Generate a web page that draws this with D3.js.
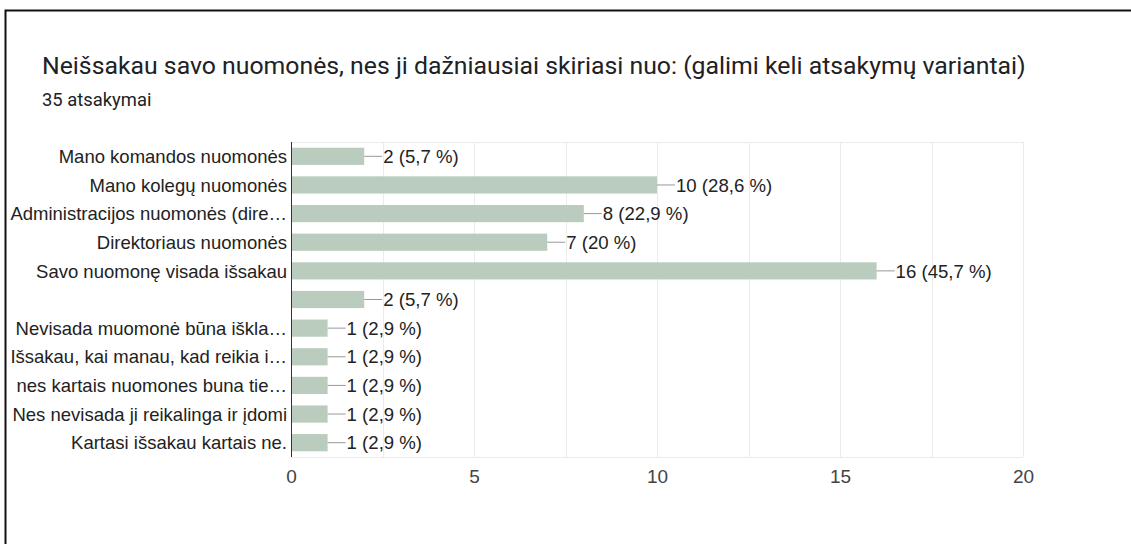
<!DOCTYPE html>
<html>
<head>
<meta charset="utf-8">
<script src="https://cdn.jsdelivr.net/npm/d3@7"></script>
<style>
  body { margin: 0; background: #fff; }
  .title { font-family: Roboto, sans-serif; font-size: 24.8px; fill: #202124; }
  .subtitle { font-family: Roboto, sans-serif; font-size: 18.4px; fill: #202124; }
  .catLabel { font-family: "Liberation Sans", Arial, sans-serif; font-size: 18.5px; fill: #222; }
  .valLabel { font-family: "Liberation Sans", Arial, sans-serif; font-size: 18.6px; fill: #222; }
  .axisX text { font-family: "Liberation Sans", Arial, sans-serif; font-size: 19px; fill: #444; }
</style>
</head>
<body>
<div id="chart"></div>
<script>
//Datos del gráfico
const categories = [
    'Mano komandos nuomonės',
    'Mano kolegų nuomonės',
    'Administracijos nuomonės (dire…',
    'Direktoriaus nuomonės',
    'Savo nuomonę visada išsakau',
    '',
    'Nevisada muomonė būna iškla…',
    'Išsakau, kai manau, kad reikia i…',
    'nes kartais nuomones buna tie…',
    'Nes nevisada ji reikalinga ir įdomi',
    'Kartasi išsakau kartais ne.'
]
const values = [2, 10, 8, 7, 16, 2, 1, 1, 1, 1, 1]
const percents = ['5,7', '28,6', '22,9', '20', '45,7', '5,7', '2,9', '2,9', '2,9', '2,9', '2,9']
const xTicks = [0, 5, 10, 15, 20]
const gridTicks = [0, 2.5, 5, 7.5, 10, 12.5, 15, 17.5, 20]

//Constantes
const width = 1131
const height = 544
const plotLeft = 291
const plotRight = 1023
const plotTop = 142
const plotBottom = 457

const svg = d3.select('#chart')
    .append('svg')
    .attr('width', width)
    .attr('height', height)

//Marco
svg.append('path')
    .attr('d', `M5.5,${height} V10.5 H${width}`)
    .attr('fill', 'none')
    .attr('stroke', '#111')
    .attr('stroke-width', 2)

//Títulos
svg.append('text')
    .attr('class', 'title')
    .attr('x', 42)
    .attr('y', 74)
    .text('Neišsakau savo nuomonės, nes ji dažniausiai skiriasi nuo: (galimi keli atsakymų variantai)')

svg.append('text')
    .attr('class', 'subtitle')
    .attr('x', 42)
    .attr('y', 106)
    .text('35 atsakymai')

//Escalas
const scaleX = d3.scaleLinear()
    .domain([0, 20])
    .range([plotLeft, plotRight])

const scaleY = d3.scaleBand()
    .domain(d3.range(categories.length))
    .range([plotTop, plotBottom])
    .paddingInner(0.4)
    .paddingOuter(0.2)

//Rejilla
const grid = svg.append('g').attr('class', 'grid')
grid.selectAll('line')
    .data(gridTicks)
    .enter()
    .append('line')
    .attr('x1', d => Math.round(scaleX(d)) + 0.5)
    .attr('x2', d => Math.round(scaleX(d)) + 0.5)
    .attr('y1', plotTop)
    .attr('y2', plotBottom)
    .attr('stroke', '#ebebeb')
    .attr('stroke-width', 1)

grid.selectAll('.hline')
    .data([plotTop, plotBottom])
    .enter()
    .append('line')
    .attr('class', 'hline')
    .attr('x1', plotLeft)
    .attr('x2', plotRight)
    .attr('y1', d => d + 0.5)
    .attr('y2', d => d + 0.5)
    .attr('stroke', '#ebebeb')

//Barras
const rows = svg.selectAll('.row')
    .data(values)
    .enter()
    .append('g')
    .attr('class', 'row')
    .attr('transform', (d, i) => `translate(0, ${scaleY(i)})`)

rows.append('rect')
    .attr('x', scaleX(0))
    .attr('y', 0)
    .attr('width', d => scaleX(d) - scaleX(0))
    .attr('height', scaleY.bandwidth())
    .attr('fill', '#b9ccbe')

//Líneas y textos de valor
const bw = scaleY.bandwidth()
const lineLen = 18
rows.append('line')
    .attr('x1', d => scaleX(d))
    .attr('x2', d => scaleX(d) + lineLen)
    .attr('y1', bw / 2)
    .attr('y2', bw / 2)
    .attr('stroke', '#999')
    .attr('stroke-width', 1)

rows.append('text')
    .attr('class', 'valLabel')
    .attr('x', d => scaleX(d) + lineLen + 1)
    .attr('y', bw / 2)
    .attr('dy', '0.36em')
    .text((d, i) => `${d} (${percents[i]} %)`)

//Etiquetas de categoría
rows.append('text')
    .attr('class', 'catLabel')
    .attr('x', plotLeft - 4)
    .attr('y', bw / 2)
    .attr('dy', '0.36em')
    .attr('text-anchor', 'end')
    .text((d, i) => categories[i])

//Eje Y
svg.append('line')
    .attr('x1', plotLeft + 0.5)
    .attr('x2', plotLeft + 0.5)
    .attr('y1', plotTop)
    .attr('y2', plotBottom)
    .attr('stroke', '#333')

//Eje X
const axisX = d3.axisBottom(scaleX)
    .tickValues(xTicks)
    .tickSize(0)
    .tickPadding(13)

const gX = svg.append('g')
    .attr('class', 'axisX')
    .attr('transform', `translate(0, ${plotBottom})`)
    .call(axisX)
gX.select('.domain').remove()
</script>
</body>
</html>
